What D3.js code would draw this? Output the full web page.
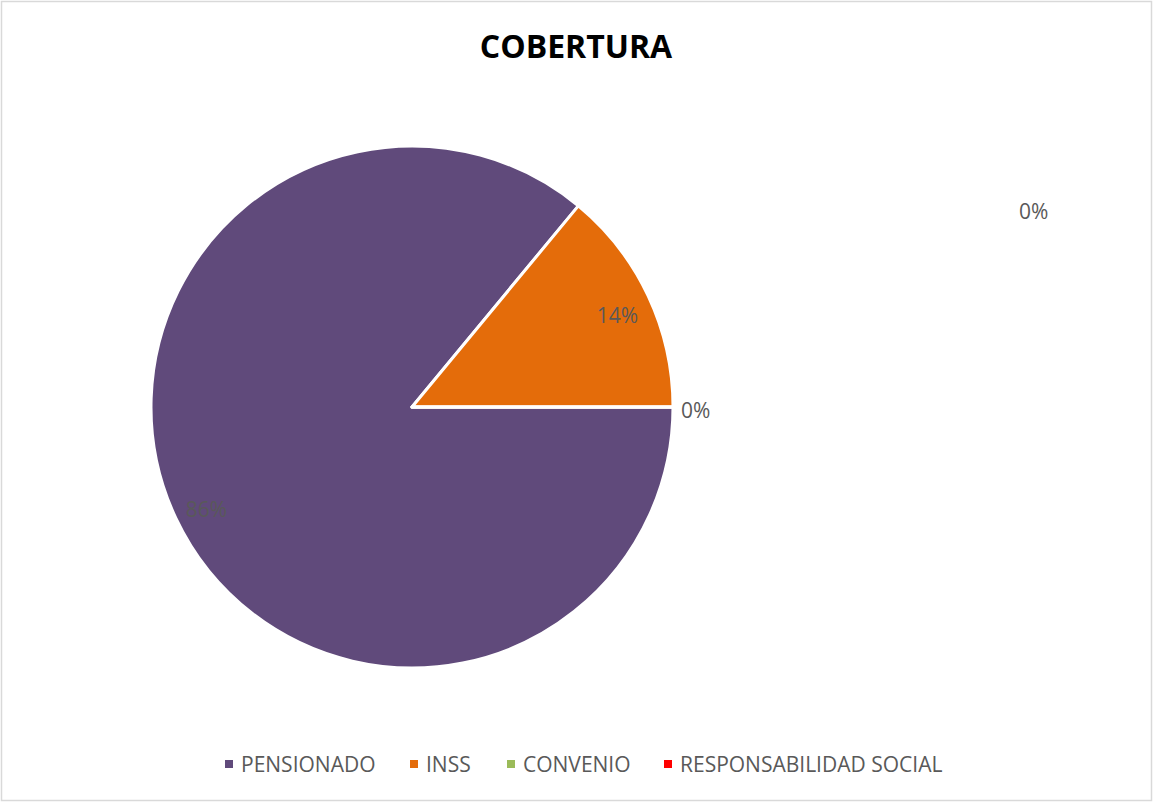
<!DOCTYPE html>
<html>
<head>
<meta charset="utf-8">
<script src="https://cdnjs.cloudflare.com/ajax/libs/d3/7.8.5/d3.min.js"></script>
<style>
  html, body { margin: 0; padding: 0; background: #fff; }
  svg { display: block; }
  text { font-family: "Open Sans", "Liberation Sans", sans-serif; }
</style>
</head>
<body>
<svg id="chart" width="1153" height="803"></svg>
<script>
// Coverage shares by category
const categories = ["PENSIONADO", "INSS", "CONVENIO", "RESPONSABILIDAD SOCIAL"];
const values = [86, 14, 0, 0];
const colors = ["#604A7B", "#E46C0A", "#9BBB59", "#FF0000"];
const title = "COBERTURA";

const W = 1153, H = 803;
const svg = d3.select("#chart");

// outer frame
svg.append("rect")
  .attr("x", 1.5).attr("y", 1.5)
  .attr("width", W - 3).attr("height", H - 4)
  .attr("fill", "#fff").attr("stroke", "#d9d9d9").attr("stroke-width", 1.5);

// title
svg.append("text")
  .attr("x", 576).attr("y", 58)
  .attr("text-anchor", "middle")
  .attr("font-size", 32).attr("font-weight", 700)
  .attr("fill", "#000")
  .text(title);

const cx = 412, cy = 407, R = 261;
const data = categories.map((c, i) => ({ name: c, value: values[i], color: colors[i] }));

// first slice begins at 3 o'clock, clockwise
const pie = d3.pie().sort(null).value(d => d.value)
  .startAngle(Math.PI / 2).endAngle(Math.PI / 2 + 2 * Math.PI);
const arcs = pie(data);
const arc = d3.arc().innerRadius(0).outerRadius(R);
const labelArc = d3.arc().innerRadius(R * 0.87).outerRadius(R * 0.87);

const g = svg.append("g").attr("transform", `translate(${cx},${cy})`);

g.selectAll("path.slice")
  .data(arcs)
  .join("path")
  .attr("class", "slice")
  .attr("d", arc)
  .attr("fill", d => d.data.color)
  .attr("stroke", "#fff")
  .attr("stroke-width", 3)
  .attr("stroke-linejoin", "round");

const total = d3.sum(values);
const pct = v => Math.round(v / total * 100) + "%";

// percent labels: inside for visible slices, outside for empty ones
const dragged = { "RESPONSABILIDAD SOCIAL": [607, -196] };
g.selectAll("text.lbl")
  .data(arcs)
  .join("text")
  .attr("class", "lbl")
  .attr("font-size", 21)
  .attr("fill", "#595959")
  .attr("dominant-baseline", "central")
  .attr("text-anchor", d => d.value > 0 ? "middle" : "start")
  .attr("transform", d => {
    if (dragged[d.data.name]) return `translate(${dragged[d.data.name]})`;
    if (d.value > 0) {
      const [x, y] = labelArc.centroid(d);
      return `translate(${x},${y + 5})`;
    }
    const a = d.startAngle;
    return `translate(${Math.sin(a) * (R + 8)},${-Math.cos(a) * (R + 8) + 3})`;
  })
  .text(d => pct(d.value));

// legend
const legendX = [225, 410, 507, 664];
const lg = svg.append("g").attr("transform", "translate(0,764)");
const items = lg.selectAll("g.item").data(data).join("g")
  .attr("class", "item")
  .attr("transform", (d, i) => `translate(${legendX[i]},0)`);
items.append("rect")
  .attr("x", 0).attr("y", -4).attr("width", 8).attr("height", 8)
  .attr("fill", d => d.color);
items.append("text")
  .attr("x", 16).attr("y", 0)
  .attr("dominant-baseline", "central")
  .attr("font-size", 21)
  .attr("fill", "#595959")
  .text(d => d.name);
</script>
</body>
</html>
